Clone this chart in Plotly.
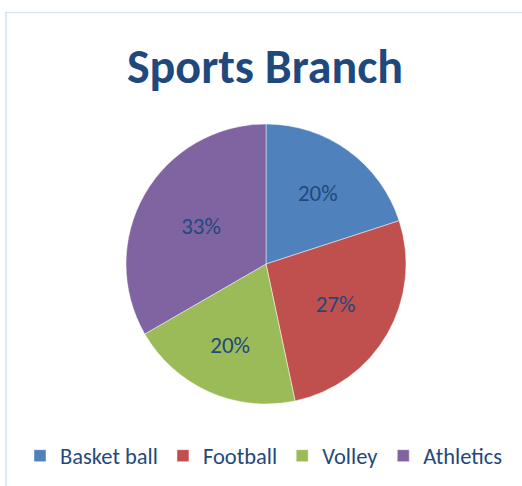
import plotly.graph_objects as go

W, H = 522, 486
categories = ["Basket ball", "Football", "Volley", "Athletics"]
values = [6, 8, 6, 10]
colors = ["#4F81BD", "#C0504D", "#9BBB59", "#8064A2"]
title_text = "Sports Branch"
text_color = "#1F497D"
font_family = "Carlito, Lato, 'Open Sans', sans-serif"

fig = go.Figure()
fig.add_trace(go.Pie(
    labels=categories,
    values=values,
    sort=False,
    direction="clockwise",
    rotation=0,
    marker=dict(colors=colors, line=dict(color="rgba(255,255,255,0.6)", width=0.8)),
    textinfo="percent",
    texttemplate="%{percent:.0%}",
    textposition="inside",
    insidetextorientation="horizontal",
    textfont=dict(color=text_color, size=23, family=font_family),
    domain=dict(x=[126 / W, 406 / W], y=[1 - 404 / H, 1 - 124 / H]),
    hoverinfo="label+percent",
))

fig.update_layout(
    width=W, height=H,
    margin=dict(l=0, r=0, t=0, b=0),
    paper_bgcolor="white",
    plot_bgcolor="white",
    title=dict(
        text="<b>" + title_text + "</b>",
        x=265 / W, xanchor="center",
        y=1 - 66 / H, yanchor="middle",
        yref="container",
        font=dict(size=48, color=text_color, family=font_family),
    ),
    showlegend=True,
    legend=dict(
        orientation="h",
        x=264 / W, xanchor="center",
        y=1 - 456 / H, yanchor="middle",
        font=dict(size=22.5, color=text_color, family=font_family),
        itemwidth=30,
        traceorder="normal",
    ),
    shapes=[dict(
        type="rect", xref="paper", yref="paper",
        x0=6 / W, x1=1.05, y0=-0.05, y1=1 - 12.5 / H,
        line=dict(color="#D5E3F3", width=1.5),
        fillcolor="rgba(0,0,0,0)",
        layer="below",
    )],
)

fig.write_html("out.html")
